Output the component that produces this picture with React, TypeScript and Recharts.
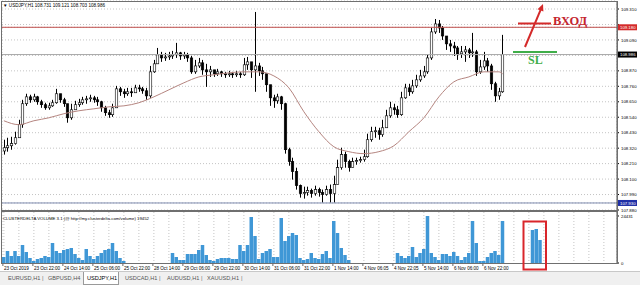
import React from 'react';
import { ComposedChart, Bar, Line, XAxis, YAxis, CartesianGrid, ReferenceLine } from 'recharts';

// USDJPY H1, drawn as 2-hour slots (slot 0 = 23 Oct 06:00)
const firstOpen = 108.3;

const closes = [
  108.323, 108.337, 108.352, 108.394, 108.487, 108.636, 108.685, 108.664, 108.685, 108.65,
  108.629, 108.607, 108.621, 108.643, 108.707, 108.664, 108.636, 108.536, 108.593, 108.629,
  108.643, 108.664, 108.671, 108.678, 108.664, 108.65, 108.607, 108.572, 108.558, 108.607,
  108.742, 108.721, 108.707, 108.721, 108.714, 108.749, 108.742, 108.728, 108.692, 108.863,
  108.92, 108.984, 108.962, 108.969, 108.976, 108.984, 108.998, 108.976, 108.984, 108.962,
  108.863, 108.905, 108.927, 108.877, 108.863, 108.877, 108.849, 108.863, 108.849, 108.842,
  108.849, 108.842, 108.849, 108.842, 108.913, 108.934, 108.877, 108.905, 108.87, 108.849,
  108.771, 108.678, 108.657, 108.685, 108.636, 108.309, 108.224, 108.153, 108.053, 107.997,
  108.004, 108.018, 107.997, 108.025, 108.004, 107.99, 108.025, 107.997, 108.061, 108.181,
  108.274, 108.224, 108.181, 108.224, 108.231, 108.238, 108.259, 108.38, 108.437, 108.444,
  108.416, 108.465, 108.55, 108.607, 108.593, 108.558, 108.678, 108.749, 108.721, 108.763,
  108.806, 108.834, 108.863, 108.962, 109.147, 109.204, 109.175, 109.118, 109.062, 109.047,
  109.033, 108.991, 109.005, 109.019, 108.998, 109.005, 108.863, 108.898, 108.941, 108.905,
  108.778, 108.692, 108.721, 108.986,
];

const highs = [
  108.38, 108.394, 108.401, 108.437, 108.522, 108.664, 108.707, 108.7, 108.707, 108.692,
  108.664, 108.643, 108.643, 108.664, 108.742, 108.7, 108.678, 108.636, 108.636, 108.657,
  108.671, 108.685, 108.692, 108.7, 108.692, 108.685, 108.657, 108.621, 108.593, 108.636,
  108.763, 108.756, 108.742, 108.749, 108.749, 108.771, 108.771, 108.756, 108.749, 108.905,
  108.948, 109.033, 109.005, 108.998, 109.005, 109.012, 109.069, 109.005, 109.005, 108.998,
  108.976, 108.948, 108.962, 108.948, 108.92, 108.905, 108.877, 108.884, 108.87, 108.863,
  108.87, 108.863, 108.87, 108.863, 108.962, 108.969, 108.934, 109.289, 108.927, 108.898,
  108.849, 108.735, 108.7, 108.707, 108.692, 108.643, 108.323, 108.252, 108.181, 108.061,
  108.046, 108.046, 108.032, 108.053, 108.039, 108.025, 108.053, 108.061, 108.124, 108.238,
  108.323, 108.295, 108.238, 108.252, 108.252, 108.259, 108.309, 108.423, 108.472, 108.472,
  108.465, 108.522, 108.593, 108.65, 108.636, 108.621, 108.721, 108.778, 108.778, 108.806,
  108.842, 108.877, 108.905, 108.984, 109.175, 109.239, 109.232, 109.189, 109.118, 109.09,
  109.076, 109.047, 109.047, 109.047, 109.033, 109.14, 109.019, 108.948, 109.005, 108.962,
  108.92, 108.792, 108.749, 109.126,
];

const lows = [
  108.274, 108.295, 108.309, 108.345, 108.451, 108.465, 108.621, 108.643, 108.65, 108.629,
  108.607, 108.593, 108.593, 108.614, 108.636, 108.643, 108.614, 108.501, 108.522, 108.593,
  108.614, 108.629, 108.636, 108.65, 108.643, 108.621, 108.579, 108.55, 108.536, 108.543,
  108.607, 108.692, 108.678, 108.692, 108.685, 108.714, 108.721, 108.707, 108.664, 108.678,
  108.856, 108.92, 108.934, 108.941, 108.948, 108.955, 108.962, 108.948, 108.955, 108.934,
  108.849, 108.849, 108.891, 108.842, 108.756, 108.827, 108.827, 108.834, 108.827, 108.82,
  108.827, 108.82, 108.827, 108.82, 108.834, 108.877, 108.82, 108.721, 108.834, 108.806,
  108.721, 108.621, 108.607, 108.636, 108.593, 108.281, 108.195, 108.096, 108.025, 107.968,
  107.961, 107.982, 107.968, 107.982, 107.975, 107.933, 107.982, 107.933, 107.933, 108.096,
  108.167, 108.181, 108.153, 108.181, 108.202, 108.217, 108.224, 108.252, 108.366, 108.394,
  108.38, 108.401, 108.465, 108.536, 108.558, 108.536, 108.55, 108.671, 108.692, 108.707,
  108.749, 108.792, 108.82, 108.849, 108.948, 109.133, 109.14, 109.09, 109.019, 109.005,
  108.976, 108.948, 108.962, 108.934, 108.962, 108.969, 108.834, 108.849, 108.877, 108.863,
  108.735, 108.65, 108.664, 108.714,
];

// moving average read at every 4th slot
const maSlots = [0, 4, 8, 12, 16, 20, 24, 28, 32, 36, 40, 44, 48, 52, 56, 60, 64, 68, 72, 76, 80, 84, 88, 92, 96, 100, 104, 108, 112, 116, 120, 124, 128, 132, 133];
const maValues = [
  108.515, 108.487, 108.515, 108.536, 108.565, 108.586, 108.6, 108.614, 108.621, 108.643,
  108.685, 108.735, 108.785, 108.827, 108.842, 108.856, 108.863, 108.863, 108.834, 108.749,
  108.579, 108.437, 108.33, 108.295, 108.281, 108.295, 108.337, 108.437, 108.536, 108.685,
  108.792, 108.827, 108.863, 108.863, 108.849,
];

const volumes = [
  3120, 6240, 3640, 6240, 3640, 9360, 5720, 2600, 1040, 2080,
  2600, 3640, 3120, 10400, 6240, 5200, 6760, 7280, 7800, 4680,
  2600, 1560, 7280, 3640, 2080, 3640, 5200, 6760, 7280, 10400,
  6240, 2600, 1040, 0, 0, 0, 0, 0, 0, 0,
  0, 0, 0, 0, 0, 5200, 3120, 1560, 1560, 4680,
  4680, 4680, 6760, 9360, 4160, 1560, 1040, 2080, 2600, 2600,
  2600, 2080, 2080, 9360, 6240, 9360, 23920, 14040, 2080, 5200,
  6240, 7280, 3120, 3120, 23400, 11440, 14040, 15600, 14560, 2600,
  1560, 2080, 5200, 2600, 2080, 4680, 6240, 2600, 21840, 15600,
  7800, 4160, 1560, 0, 0, 0, 0, 0, 0, 0,
  0, 0, 0, 0, 0, 5200, 3640, 2600, 3640, 8320,
  3120, 5200, 7280, 24431, 5200, 3120, 1560, 4680, 4680, 3640,
  5720, 3640, 1560, 3120, 5200, 21840, 10400, 1040, 1040, 3120,
  5200, 6240, 4160, 21840, 0, 0, 0, 0, 0, 0,
  0, 17160, 17680, 11960,
];

const priceTicks = [109.31, 109.2, 109.09, 108.98, 108.87, 108.76, 108.65, 108.54, 108.43, 108.32, 108.21, 108.1, 107.99, 107.88];
const hiddenPriceTicks = [109.2, 108.98];
const redLevel = 109.18;
const bidLevel = 108.986;
const blueLevel = 107.93;

const labelSlots = [0, 8, 16, 24, 32, 40, 48, 56, 64, 72, 80, 88, 96, 104, 112, 120, 128];
const labelTexts = [
  '23 Oct 2019', '23 Oct 22:00', '24 Oct 14:00', '25 Oct 06:00', '25 Oct 22:00', '28 Oct 14:00',
  '29 Oct 06:00', '29 Oct 22:00', '30 Oct 14:00', '31 Oct 06:00', '31 Oct 22:00', '1 Nov 14:00',
  '4 Nov 06:05', '4 Nov 22:05', '5 Nov 14:00', '6 Nov 06:00', '6 Nov 22:00',
];

const tabNames = ['EURUSD,H1', 'GBPUSD,H4', 'USDJPY,H1', 'USDCAD,H1', 'AUDUSD,H1', 'XAUUSD,H1'];
const activeTab = 'USDJPY,H1';

const FONT = '"Liberation Sans", Arial, sans-serif';
const X_DOMAIN: [number, number] = [-0.5, 163.5];
const gridTicks = Array.from({ length: 41 }, (_, i) => i * 4);

const priceRows = closes.map((c, i) => {
  const open = i === 0 ? firstOpen : closes[i - 1];
  const k = maSlots.indexOf(i);
  return {
    slot: i,
    open,
    close: c,
    range: [Math.min(lows[i], open, c), Math.max(highs[i], open, c)],
    ma: k >= 0 ? maValues[k] : null,
  };
});

const volumeRows = volumes.map((v, i) => ({ slot: i, vol: v }));

const Candle = (props: any) => {
  const { x, y, width, height, payload } = props;
  if (!payload || height == null) return <g />;
  const [lo, hi] = payload.range;
  const top = height < 0 ? y + height : y;
  const h = Math.abs(height);
  const k = hi > lo ? h / (hi - lo) : 0;
  const bTop = top + (hi - Math.max(payload.open, payload.close)) * k;
  const bBot = top + (hi - Math.min(payload.open, payload.close)) * k;
  const cx = Math.round(x + width / 2) + 0.5;
  const bull = payload.close >= payload.open;
  return (
    <g>
      <line x1={cx} x2={cx} y1={top} y2={top + h} stroke="#000" strokeWidth={1} />
      <rect x={cx - 1.25} y={bTop} width={2.5} height={Math.max(bBot - bTop, 0.8)}
        fill={bull ? '#fff' : '#000'} stroke="#000" strokeWidth={0.6} />
    </g>
  );
};

const PriceTick = (props: any) => {
  const { x, y, payload } = props;
  const v = payload.value;
  const box = (fill: string, text: string) => (
    <g>
      <rect x={x - 3} y={y - 3} width={19} height={6} fill={fill} />
      <text x={x - 1} y={y + 1.6} fontSize={4.3} fill="#fff" fontFamily={FONT}>{text}</text>
    </g>
  );
  if (v === redLevel) return box('#d42a2a', v.toFixed(3));
  if (v === bidLevel) return box('#000', v.toFixed(3));
  if (v === blueLevel) return box('#1f2fa6', v.toFixed(3));
  if (hiddenPriceTicks.includes(v)) return <g />;
  return <text x={x} y={y + 1.6} fontSize={4.3} fill="#000" fontFamily={FONT}>{v.toFixed(3)}</text>;
};

const VolTick = (props: any) => {
  const { x, y, payload } = props;
  return <text x={x} y={y + 1.6} fontSize={4.3} fill="#000" fontFamily={FONT}>{payload.value}</text>;
};

const DateTick = (props: any) => {
  const { x, y, payload } = props;
  const k = labelSlots.indexOf(payload.value);
  if (k < 0) return <g />;
  return (
    <g>
      <line x1={x - 1} x2={x - 1} y1={y} y2={y + 3} stroke="#000" strokeWidth={0.6} />
      <text x={x} y={y + 6.8} fontSize={4.6} fill="#000" fontFamily={FONT}>{labelTexts[k]}</text>
    </g>
  );
};

const App: React.FC = () => {
  return (
    <div style={{ position: 'fixed', left: 0, top: 0, width: 640, height: 285, background: '#fff', overflow: 'hidden', fontFamily: FONT }}>
      <div style={{ position: 'absolute', left: 0, top: 0 }}>
        <ComposedChart width={640} height={212} data={priceRows} margin={{ top: 1, right: 0, bottom: 2, left: 2 }}>
          <CartesianGrid stroke="#c4c4c4" strokeDasharray="1 2" />
          <XAxis type="number" dataKey="slot" domain={X_DOMAIN} ticks={gridTicks} interval={0}
            height={0} tick={false} axisLine={false} tickLine={false} />
          <YAxis orientation="right" width={23} type="number" domain={[107.88, 109.367]}
            ticks={[...priceTicks, redLevel, bidLevel, blueLevel]} interval={0}
            tick={<PriceTick />} tickSize={2} tickMargin={2}
            axisLine={{ stroke: '#555' }} tickLine={{ stroke: '#000' }} />
          <ReferenceLine y={redLevel} stroke="#c0504d" strokeWidth={1} />
          <ReferenceLine y={bidLevel} stroke="#a8a8a8" strokeWidth={1} />
          <ReferenceLine y={blueLevel} stroke="#7f8db0" strokeWidth={1} />
          <Bar dataKey="range" barSize={3} shape={<Candle />} isAnimationActive={false} />
          <Line dataKey="ma" type="monotone" connectNulls dot={false} stroke="#b58580" strokeWidth={1} isAnimationActive={false} />
        </ComposedChart>
      </div>

      <div style={{ position: 'absolute', left: 0, top: 205 }}>
        <ComposedChart width={640} height={67} data={volumeRows} margin={{ top: 7, right: 0, bottom: 0, left: 2 }}>
          <CartesianGrid stroke="#c4c4c4" strokeDasharray="1 2" horizontal={false} />
          <XAxis type="number" dataKey="slot" domain={X_DOMAIN} ticks={gridTicks} interval={0}
            height={9} tick={<DateTick />} tickSize={0} tickMargin={0} axisLine={false} tickLine={false} />
          <YAxis orientation="right" width={23} type="number" domain={[0, 26510]} ticks={[0, 24431]}
            interval={0} tick={<VolTick />} tickSize={2} tickMargin={2}
            axisLine={{ stroke: '#555' }} tickLine={{ stroke: '#000' }} />
          <Bar dataKey="vol" barSize={3.5} fill="#3f97d6" isAnimationActive={false} />
        </ComposedChart>
      </div>

      {/* pane frames */}
      <div style={{ position: 'absolute', left: 1, top: 1, width: 615, height: 208, border: '1px solid #6f6f6f', pointerEvents: 'none' }} />
      <div style={{ position: 'absolute', left: 1, top: 211, width: 615, height: 51, border: '1px solid #6f6f6f', pointerEvents: 'none' }} />

      {/* titles and hand-drawn marks */}
      <svg width={640} height={285} style={{ position: 'absolute', left: 0, top: 0, pointerEvents: 'none' }}>
        <text x={3} y={7} fontSize={4.6} fill="#000" fontFamily={FONT}>▼ USDJPY,H1  108.731 109.121 108.703 108.986</text>
        <text x={3} y={219.5} fontSize={4.3} fill="#000" fontFamily={FONT}>CLUSTERDELTA VOLUME 3.1 (@ http://my.clusterdelta.com/volume) 19452</text>
        <line x1={518} x2={551} y1={23.5} y2={23.5} stroke="#d42a2a" strokeWidth={2} />
        <line x1={525} y1={47} x2={540.6} y2={9.8} stroke="#d42a2a" strokeWidth={2} />
        <polygon points="543,4 543.4,11.6 537.5,9.2" fill="#d42a2a" />
        <text x={553} y={25} fontSize={12.5} fontWeight="bold" fill="#c4262e" fontFamily='"Liberation Serif", serif'>ВХОД</text>
        <line x1={513} x2={557} y1={52} y2={52} stroke="#3fae49" strokeWidth={2} />
        <text x={528} y={63.5} fontSize={12} fontWeight="bold" fill="#3fae49" fontFamily='"Liberation Serif", serif'>SL</text>
        <rect x={523.5} y={221.5} width={22.5} height={48} fill="none" stroke="#d9262b" strokeWidth={2} />
        <text x={623} y={281.5} fontSize={6} fill="#888" fontFamily={FONT}>‹</text>
        <text x={635} y={281.5} fontSize={6} fill="#888" fontFamily={FONT}>›</text>
      </svg>

      {/* symbol tabs */}
      <div style={{ position: 'absolute', left: 0, top: 271, width: 640, height: 14, background: '#f0f0f0', borderTop: '1px solid #c8c8c8' }}>
        {tabNames.map((name, i) => {
          const left = [8, 48, 87, 125, 167, 207][i];
          const active = name === activeTab;
          return (
            <React.Fragment key={name}>
              {active && (
                <div style={{ position: 'absolute', left: 83, top: 0, width: 34, height: 12, background: '#fff', border: '1px solid #9a9a9a', borderTop: 'none' }} />
              )}
              <div style={{ position: 'absolute', left, top: 3, fontSize: 5.6, lineHeight: '7px', color: active ? '#000' : '#555' }}>{name}</div>
              {!active && i !== 1 && (
                <div style={{ position: 'absolute', left: left + 34, top: 2, fontSize: 6, lineHeight: '8px', color: '#777' }}>|</div>
              )}
            </React.Fragment>
          );
        })}
      </div>
    </div>
  );
};

export default App;
